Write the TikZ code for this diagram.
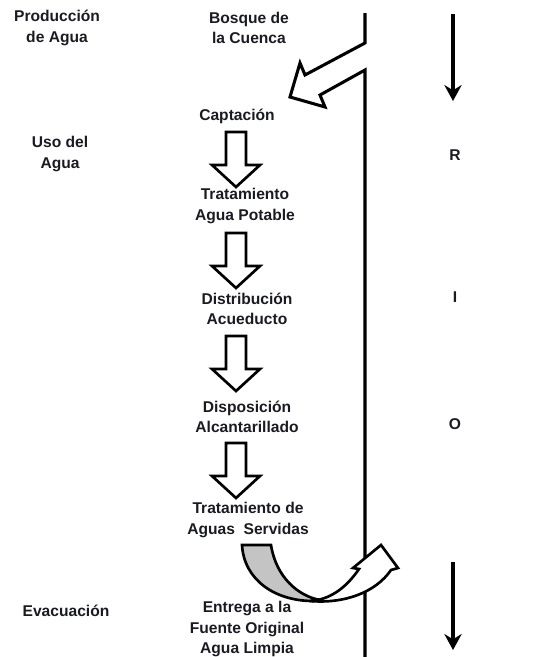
\documentclass[tikz,border=0pt]{standalone}
\usepackage{fontspec}
\setmainfont{Liberation Sans}
\usetikzlibrary{arrows.meta}
\definecolor{backgray}{HTML}{C4C4C4}
\definecolor{inkc}{HTML}{1A1A22}
\tikzset{
  txt/.style={font=\fontsize{11.7}{15.5}\selectfont\bfseries, text=inkc, align=center, inner sep=0pt},
  outl/.style={draw=black, line width=2pt, line join=miter, fill=white},
  river/.style={draw=black, line width=2.3pt, line join=miter},
  flow/.style={draw=black, line width=2.3pt, -{Stealth[length=12pt,width=13pt,inset=4pt]}},
  hollow down/.pic={\path[outl] (-10,0) -- (10,0) -- (10,33) -- (24,33) -- (0,55) -- (-24,33) -- (-10,33) -- cycle;}
}
\begin{document}
\begin{tikzpicture}[x=0.75pt,y=-0.75pt]
\useasboundingbox (0,0) rectangle (541,657);
% left column
\node[txt] (prod) at (57,28) {Producción\\de Agua};
\node[txt] (uso) at (60,154) {Uso del\\Agua};
\node[txt] (evac) at (66,611) {Evacuación};
% central column
\node[txt] (bosque) at (249,28) {Bosque de\\la Cuenca};
\node[txt] (capt) at (237,116) {Captación};
\node[txt] (trat) at (245,206) {Tratamiento\\Agua Potable};
\node[txt] (dist) at (247,309) {Distribución\\Acueducto};
\node[txt] (disp) at (247,417) {Disposición\\Alcantarillado};
\node[txt] (serv) at (248,520) {Tratamiento de\\Aguas\ \ Servidas};
\node[txt] (entr) at (247,629) {Entrega a la\\Fuente Original\\Agua Limpia};
% RIO letters
\node[txt] (r) at (455,155) {R};
\node[txt] (i) at (455,297) {I};
\node[txt] (o) at (455,424) {O};
% hollow arrows
\pic at (236,132) {hollow down};
\pic at (236,233) {hollow down};
\pic at (236,336) {hollow down};
\pic at (236,443) {hollow down};
% river with bent inflow arrow
\path[river] (365,13) -- (365,43) -- (305,75) -- (300,63) -- (290,97) -- (325,107) -- (320,95) -- (365,70) -- (365,657);
% flow direction arrows
\coordinate (f1s) at (453,14);
\coordinate (f1e) at (453,101);
\coordinate (f2s) at (453,562);
\coordinate (f2e) at (453,650);
\draw[flow] (f1s) -- (f1e);
\draw[flow] (f2s) -- (f2e);
% curved return arrow
\path[outl, fill=backgray] (242,545) -- (271,545) .. controls (276,577) and (298,596) .. (320,600) -- (313,601) .. controls (275,601) and (244,580) .. (242,545) -- cycle;
\path[outl] (310,601) .. controls (345,604) and (376,592) .. (391,570) -- (398,568) -- (381,545) -- (353,568) -- (359,569) .. controls (348,585) and (335,596) .. (318,600) -- cycle;
\end{tikzpicture}
\end{document}
